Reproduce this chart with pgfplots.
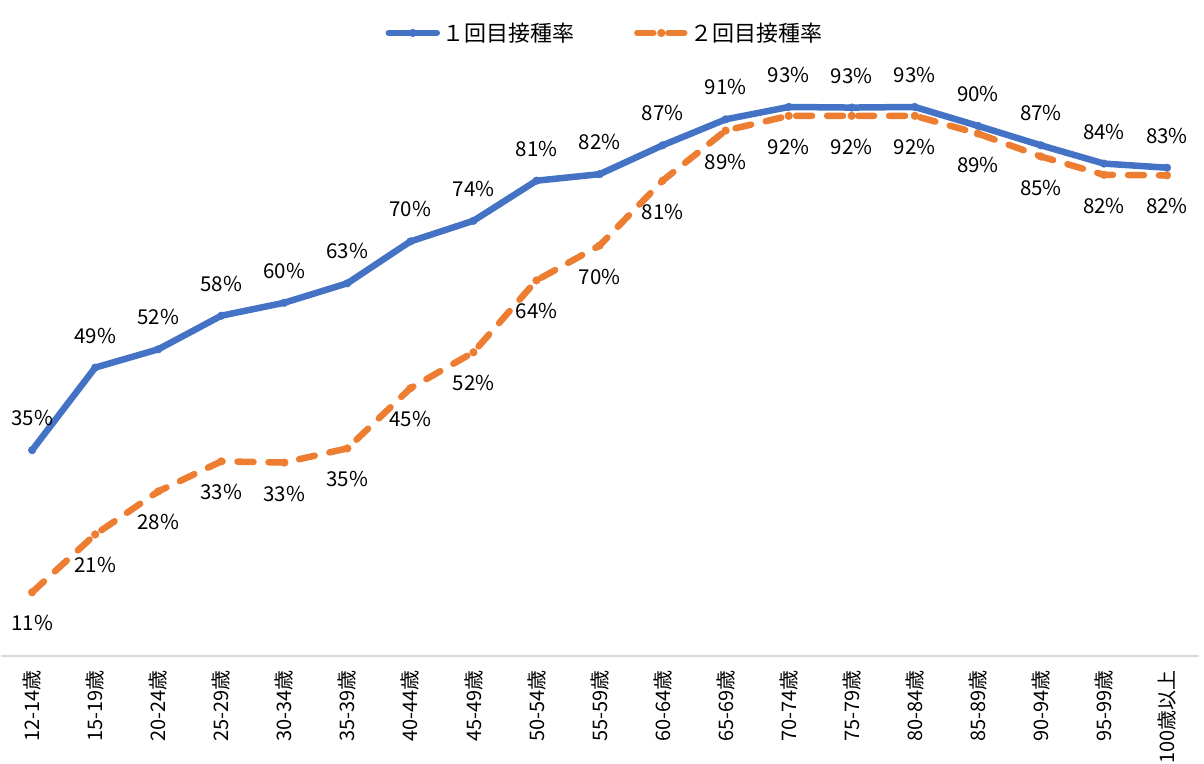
\documentclass[border=0pt]{standalone}
\usepackage{pgfplots}
\pgfplotsset{compat=1.18}
\usepackage{fontspec}
\setmainfont{Noto Sans CJK JP}
\definecolor{cblue}{HTML}{4472C4}
\definecolor{corange}{HTML}{ED7D31}
\definecolor{axgray}{HTML}{D9D9D9}
\begin{document}
\begin{tikzpicture}
\begin{axis}[
  at={(0pt,0pt)}, anchor=south west,
  scale only axis,
  width=1198pt, height=589.7pt,
  xmin=-0.5, xmax=18.5, ymin=0, ymax=100,
  axis x line=bottom, axis y line=none,
  x axis line style={draw=axgray, line width=1.2pt, -},
  xtick={0,...,18},
  xticklabels={12-14歳,15-19歳,20-24歳,25-29歳,30-34歳,35-39歳,40-44歳,45-49歳,50-54歳,55-59歳,60-64歳,65-69歳,70-74歳,75-79歳,80-84歳,85-89歳,90-94歳,95-99歳,100歳以上},
  xticklabel style={rotate=90, anchor=east, inner sep=0pt, font=\fontsize{20}{20}\selectfont},
  xticklabel shift={14pt},
  major tick length=0pt,
  clip=false,
  point meta=explicit symbolic,
  nodes near coords={\pgfplotspointmeta\%},
  nodes near coords style={font=\fontsize{20.5}{20.5}\selectfont, text=black, anchor=center},
  legend columns=2,
  legend style={draw=none, fill=none, at={(0.5046,1.0565)}, anchor=center,
    font=\fontsize{22}{22}\selectfont,
    /tikz/every even column/.append style={column sep=58pt}},
  legend image code/.code={\draw[mark repeat=2, mark phase=2, #1] plot coordinates {(0pt,0pt) (24pt,0pt) (48pt,0pt)};},
]
\addplot[cblue, line width=6.5pt, line join=round, line cap=round, mark=*, mark size=3.8pt,
  mark options={solid, line width=0.5pt},
  every node near coord/.append style={yshift=32pt}]
coordinates {
(0,34.9) [35] (1,48.9) [49] (2,52.0) [52] (3,57.7) [58] (4,59.9) [60] (5,63.2) [63]
(6,70.3) [70] (7,73.8) [74] (8,80.6) [81] (9,81.7) [82] (10,86.6) [87] (11,91.0) [91]
(12,93.1) [93] (13,93.0) [93] (14,93.1) [93] (15,89.9) [90] (16,86.6) [87] (17,83.5) [84] (18,82.8) [83]
};
\addlegendentry{１回目接種率}
\addplot[corange, line width=6.5pt, line join=round, line cap=round, dash pattern=on 16pt off 15pt,
  mark=*, mark size=3.8pt, mark options={solid, line width=0.5pt},
  every node near coord/.append style={yshift=-31pt}]
coordinates {
(0,10.8) [11] (1,20.6) [21] (2,27.9) [28] (3,33.0) [33] (4,32.8) [33] (5,35.2) [35]
(6,45.4) [45] (7,51.5) [52] (8,63.7) [64] (9,69.6) [70] (10,80.6) [81] (11,89.1) [89]
(12,91.6) [92] (13,91.6) [92] (14,91.6) [92] (15,88.6) [89] (16,84.7) [85] (17,81.6) [82] (18,81.5) [82]
};
\addlegendentry{２回目接種率}
\end{axis}
\path[use as bounding box] (-0.5pt,-107pt) rectangle (1203.5pt,656pt);
\end{tikzpicture}
\end{document}
